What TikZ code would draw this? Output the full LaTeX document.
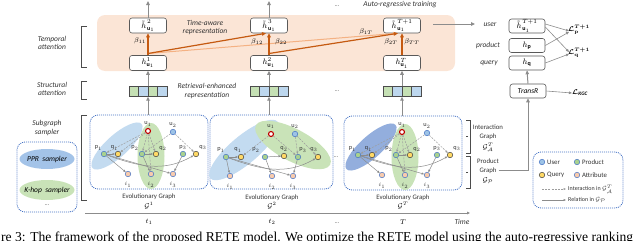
\documentclass[tikz,border=0pt]{standalone}
\usepackage{amsmath}
\usepackage{fontspec}
\setmainfont{Carlito}
\newfontfamily\capfont{Liberation Serif}
\usetikzlibrary{arrows.meta,shapes.geometric,calc}
\definecolor{gline}{HTML}{8C8C8C}
\definecolor{dorange}{HTML}{C55A11}
\definecolor{lorange}{HTML}{F4B183}
\definecolor{peach}{HTML}{FBE5D6}
\definecolor{dotblue}{HTML}{4472C4}
\definecolor{vgreen}{HTML}{C5E0B4}
\definecolor{vblue}{HTML}{BDD7EE}
\definecolor{nblue}{HTML}{9DC3E6}
\definecolor{ngreen}{HTML}{A9D18E}
\definecolor{nyellow}{HTML}{FFD966}
\definecolor{norange}{HTML}{F8CBAD}
\definecolor{nred}{HTML}{C00000}
\definecolor{eblue}{HTML}{C3DBF0}
\definecolor{eblueb}{HTML}{93AEDD}
\definecolor{epurp}{HTML}{A3C3E8}
\definecolor{egreen}{HTML}{C9E3B8}
\definecolor{boxdraw}{HTML}{595959}
\tikzset{
  gar/.style={draw=gline, line width=1pt, -{Triangle[length=4pt,width=3.5pt]}},
  tar/.style={draw=gline, line width=0.6pt, -{Triangle[length=3pt,width=2.6pt]}},
  oar/.style={draw=dorange, line width=1.2pt, -{Triangle[length=4pt,width=3.5pt]}},
  lar/.style={draw=lorange, line width=1pt, -{Triangle[length=4pt,width=3.5pt]}},
  hbox/.style={draw=boxdraw, rounded corners=2.5pt, fill=white, minimum width=37pt, minimum height=15pt, inner sep=0pt, line width=0.6pt, font=\fontsize{8}{9}\selectfont},
  lab/.style={font=\fontsize{7.5}{8.8}\selectfont\itshape, align=center, text=black!80, inner sep=0pt},
  plab/.style={font=\fontsize{6.8}{8}\selectfont, align=center, text=black!80, inner sep=0pt},
  gn/.style={circle, draw=dotblue, line width=0.5pt, minimum size=5.5pt, inner sep=0pt},
  un/.style={gn, fill=nblue},
  rn/.style={gn, fill=white, draw=nred, line width=1.1pt, minimum size=5pt},
  pn/.style={gn, fill=ngreen},
  qn/.style={gn, fill=nyellow, draw=black!75},
  atn/.style={gn, fill=norange},
  nl/.style={font=\fontsize{6.3}{7}\selectfont, inner sep=0pt, text=black!80},
  dotbox/.style={draw=dotblue, dash pattern=on 1pt off 1pt, line width=0.8pt, rounded corners=8pt, inner sep=0pt},
  ie/.style={draw=gline!85, dash pattern=on 2pt off 1.2pt, line width=0.5pt, -{Triangle[length=2.5pt,width=2pt]}},
  rel/.style={draw=gline, line width=0.5pt, -{Triangle[length=2.5pt,width=2pt]}},
  brk/.style={draw=black!70, line width=0.8pt},
  vsq/.style={draw=black!70, line width=0.5pt, minimum width=9.5pt, minimum height=10pt, inner sep=0pt},
  bet/.style={font=\fontsize{7}{8}\selectfont, inner sep=0pt},
  ell/.style={ellipse, inner sep=0pt},
  dots/.style={font=\fontsize{6}{6}\selectfont, inner sep=0pt, text=black!70}
}
\newcommand\vecat[2]{% name, x
  \node[inner sep=0pt, minimum width=38pt, minimum height=10pt] (#1) at (#2,91.5) {};
  \node[vsq, fill=vgreen] (#1a) at ($(#1)+(-14.25,0)$) {};
  \node[vsq, fill=vblue]  (#1b) at ($(#1)+(-4.75,0)$) {};
  \node[vsq, fill=vgreen] (#1c) at ($(#1)+(4.75,0)$) {};
  \node[vsq, fill=vblue]  (#1d) at ($(#1)+(14.25,0)$) {};
}
\newcommand\panelA[4]{% prefix, dx, dy, ellipse blue
\begin{scope}[shift={(#2,#3)}]
  \node[dotbox, minimum width=118pt, minimum height=74pt] (#1box) at (149,152) {};
  \node[ell, fill=#4, minimum width=66pt, minimum height=22pt, rotate=42] (#1eb) at (117,146) {};
  \node[ell, fill=egreen, minimum width=27pt, minimum height=66pt] (#1eg) at (151,156) {};
  \node[rn] (#1u1) at (148,131) {};
  \node[un] (#1u2) at (173,132) {};
  \node[pn] (#1p1) at (104,154) {};
  \node[qn] (#1q1) at (118,154) {};
  \node[pn] (#1p2) at (142,154) {};
  \node[qn] (#1q2) at (156,154) {};
  \node[pn] (#1p3) at (183,154) {};
  \node[qn] (#1q3) at (196,154) {};
  \node[atn] (#1i1) at (128,174) {};
  \node[atn] (#1i2) at (151,174) {};
  \node[atn] (#1i3) at (173,174) {};
  \node[nl] (#1lu1) at (148,124) {u$_1$};
  \node[nl] (#1lu2) at (173,125) {u$_2$};
  \node[nl] (#1lp1) at (98.5,148) {p$_1$};
  \node[nl] (#1lq1) at (114.5,148) {q$_1$};
  \node[nl] (#1lp2) at (135,148) {p$_2$};
  \node[nl] (#1lq2) at (163,148.5) {q$_2$};
  \node[nl] (#1lp3) at (183,147.5) {p$_3$};
  \node[nl] (#1lq3) at (203,147.5) {q$_3$};
  \node[nl] (#1li1) at (128,184.5) {$i_1$};
  \node[nl] (#1li2) at (151,184.5) {$i_2$};
  \node[nl] (#1li3) at (173,184.5) {$i_3$};
  \draw[ie] (#1u1) -- (#1p1);
  \draw[ie] (#1u1) -- (#1q1);
  \draw[ie] (#1u1) -- (#1p2);
  \draw[ie] (#1u1) -- (#1q2);
  \draw[ie] (#1u1) -- (#1i2);
  \draw[ie] (#1u2) -- (#1p2);
  \draw[ie] (#1u2) -- (#1q3);
  \draw[rel] (#1p1) -- (#1q1);
  \draw[rel] (#1p2) -- (#1q2);
  \draw[rel] (#1p1) -- (#1i1);
  \draw[rel] (#1p1) -- (#1i3);
  \draw[rel] (#1p2) -- (#1i2);
  \draw[rel] (#1p3) -- (#1i3);
  \draw[rel] (#1p1) to[out=-20,in=-150] (#1q3);
\end{scope}}
\begin{document}
\begin{tikzpicture}[x=1pt,y=-1pt]
\useasboundingbox (0,0) rectangle (640,241);
\clip (0,0) rectangle (640,241);
% orange band
\node[fill=peach, rounded corners=8pt, minimum width=358pt, minimum height=56pt, inner sep=0pt] (band) at (276,43) {};
% left labels and brackets
\node[lab] (ltemp) at (52,43) {Temporal\\attention};
\node[lab] (lstruc) at (52,89) {Structural\\attention};
\node[lab] (lsub) at (47,128) {Subgraph\\sampler};
\draw[brk] (87,26) -- (81,26) -- (81,67) -- (87,67);
\draw[brk] (87,81) -- (81,81) -- (81,99) -- (87,99);
\draw[brk] (87,115) -- (81,115) -- (81,200) -- (87,200);
% sampler box
\node[dotbox, minimum width=60pt, minimum height=70pt] (sbox) at (47,177) {};
\node[ell, fill=epurp, minimum width=55pt, minimum height=20pt] (ppr) at (47,159) {};
\node[lab, text=black] (pprt) at (47,159) {PPR\ \ sampler};
\node[ell, fill=egreen, minimum width=55pt, minimum height=20pt] (khop) at (47,190) {};
\node[lab, text=black] (khopt) at (47,190) {K-hop\ \ sampler};
\node[dots] (sdots) at (47,205) {\textellipsis};
% top boxes
\node[hbox] (t1) at (148,25.5) {${\tilde{h}\kern0.9pt}^{2}_{\mathbf{u}_1}$};
\node[hbox] (b1) at (148,63) {$h^{1}_{\mathbf{u}_1}$};
\node[hbox] (t2) at (269,25.5) {${\tilde{h}\kern0.9pt}^{3}_{\mathbf{u}_1}$};
\node[hbox] (b2) at (269,63) {$h^{2}_{\mathbf{u}_1}$};
\node[hbox] (t3) at (402,25.5) {${\tilde{h}\kern0.9pt}^{T+1}_{\mathbf{u}_1}$};
\node[hbox] (b3) at (402,63) {$h^{T}_{\mathbf{u}_1}$};
\coordinate (o1) at (148,1);
\coordinate (o2) at (269,1);
\draw[gar] (t1.north) -- (o1);
\draw[gar] (t2.north) -- (o2);
% vectors
\vecat{v1}{148}
\vecat{v2}{269}
\vecat{v3}{402}
\draw[gar] (v1.north) -- (b1.south);
\draw[gar] (v2.north) -- (b2.south);
\draw[gar] (v3.north) -- (b3.south);
% orange attention
\coordinate (s1) at (148,53.5);
\coordinate (s2) at (269,53.5);
\draw[lar] (s1) -- ($(t3.south)+(-5,0)$);
\draw[oar] (s1) -- ($(t2.south)+(-3,0)$);
\draw[oar] (s2) -- ($(t3.south)+(-4,0)$);
\draw[oar] (b1.north) -- (t1.south);
\draw[oar] (b2.north) -- (t2.south);
\draw[oar] (b3.north) -- (t3.south);
\node[bet] (be11) at (140,41) {$\beta_{11}$};
\node[bet] (be12) at (257,42) {$\beta_{12}$};
\node[bet] (be22) at (281,42) {$\beta_{22}$};
\node[bet] (be1T) at (366,32) {$\beta_{1T}$};
\node[bet] (be2T) at (391,42) {$\beta_{2T}$};
\node[bet] (beTT) at (412,42) {$\beta_{TT}$};
\node[lab] (tar) at (205,27.5) {Time-aware\\representation};
\node[lab] (rer) at (207,91) {Retrieval-enhanced\\representation};
\node[lab] (art) at (400,5) {Auto-regressive training};
\node[dots] (d1) at (337,6) {\textellipsis};
\node[dots] (d2) at (337,91) {\textellipsis};
\node[dots] (d3) at (336,157) {\textellipsis};
\node[dots] (d4) at (337,223) {\textellipsis};
% panels
\panelA{A}{0}{0}{eblue}
\panelA{C}{254}{1}{eblueb}
\begin{scope}
  \node[dotbox, minimum width=123pt, minimum height=74pt] (Bbox) at (271.5,152) {};
  \node[ell, fill=eblue, minimum width=88pt, minimum height=28pt, rotate=40] (Beb) at (244,150) {};
  \node[ell, fill=egreen, minimum width=84pt, minimum height=32pt, rotate=-28] (Beg) at (293,145) {};
  \node[rn] (Bu1) at (271,134) {};
  \node[un] (Bu2) at (295,134) {};
  \node[pn] (Bp1) at (226,157) {};
  \node[qn] (Bq1) at (241,157) {};
  \node[pn] (Bp2) at (265,157) {};
  \node[qn] (Bq2) at (284,156) {};
  \node[pn] (Bp3) at (298,157) {};
  \node[qn] (Bq3) at (318,157) {};
  \node[atn] (Bi1) at (230,176) {};
  \node[atn] (Bi2) at (272,176) {};
  \node[atn] (Bi3) at (293,176) {};
  \node[nl] (Blu1) at (271,126.5) {u$_1$};
  \node[nl] (Blu2) at (295,126.5) {u$_2$};
  \node[nl] (Blp1) at (221,150) {p$_1$};
  \node[nl] (Blq1) at (238,150) {q$_1$};
  \node[nl] (Blp2) at (256,150) {p$_2$};
  \node[nl] (Blq2) at (284,149) {q$_2$};
  \node[nl] (Blp3) at (303,150) {p$_3$};
  \node[nl] (Blq3) at (314,149.5) {q$_3$};
  \node[nl] (Bli1) at (230,186.5) {$i_1$};
  \node[nl] (Bli2) at (272,186.5) {$i_2$};
  \node[nl] (Bli3) at (293,186.5) {$i_3$};
  \draw[ie] (Bu1) -- (Bq1);
  \draw[ie] (Bu1) -- (Bp3);
  \draw[ie] (Bu2) -- (Bp3);
  \draw[ie] (Bu2) -- (Bq3);
  \draw[rel] (Bp1) -- (Bq1);
  \draw[rel] (Bp2) -- (Bq2);
  \draw[rel] (Bp1) -- (Bi1);
  \draw[rel] (Bp1) -- (Bi3);
  \draw[rel] (Bp2) -- (Bi2);
  \draw[rel] (Bp3) -- (Bi3);
  \draw[rel] (Bp1) to[out=-20,in=-150] (Bq3);
\end{scope}
\draw[gar] (Abox.north -| v1.south) -- (v1.south);
\draw[gar] (Bbox.north -| v2.south) -- (v2.south);
\draw[gar] (Cbox.north -| v3.south) -- (v3.south);
% evolutionary graph labels
\node[plab] (eg1) at (149,197) {Evolutionary Graph};
\node[plab] (eg2) at (272,198) {Evolutionary Graph};
\node[plab] (eg3) at (403,198) {Evolutionary Graph};
\node[bet] (g1) at (149,205.5) {$\mathcal{G}^{1}$};
\node[bet] (g2) at (272,205.5) {$\mathcal{G}^{2}$};
\node[bet] (g3) at (403,205.5) {$\mathcal{G}^{T}$};
\coordinate (ta) at (85,213);
\coordinate (tb) at (470,213);
\draw[tar, line width=0.8pt] (ta) -- (tb);
\node[bet] (tt1) at (149,222) {$t_1$};
\node[bet] (tt2) at (272,222) {$t_2$};
\node[bet] (ttT) at (403,222) {$T$};
\node[lab] (time) at (462,221.5) {Time};
% right brackets
\draw[brk] (466,120) -- (470,120) -- (470,153) -- (466,153);
\draw[brk] (468,136.5) -- (466,136.5);
\draw[brk] (466,156) -- (470,156) -- (470,188) -- (466,188);
\draw[brk] (468,172) -- (466,172);
\node[plab] (ig1) at (488,127) {Interaction};
\node[plab] (ig2) at (488,137) {Graph};
\node[bet] (ig3) at (488,147) {$\mathcal{G}_{\mathcal{A}}^{T}$};
\node[plab] (pg1) at (488,161) {Product};
\node[plab] (pg2) at (488,170.5) {Graph};
\node[bet] (pg3) at (488,181) {$\mathcal{G}_{\mathcal{P}}$};
% right side
\coordinate (ua) at (433,24);
\coordinate (ub) at (475,24);
\draw[gar] (ua) -- (ub);
\node[lab] (user) at (490,25) {user};
\node[lab] (prod) at (488,45) {product};
\node[lab] (query) at (489,63) {query};
\node[hbox, minimum width=36pt, minimum height=14pt] (hu) at (527,26) {${\tilde{h}\kern0.9pt}^{T+1}_{\mathbf{u}_1}$};
\node[hbox, minimum width=36pt, minimum height=14pt] (hp) at (527,45.5) {$h_{\mathbf{p}}$};
\node[hbox, minimum width=36pt, minimum height=14pt] (hq) at (527,63) {$h_{\mathbf{q}}$};
\node[hbox, minimum width=36pt, minimum height=14pt, font=\fontsize{7.5}{8}\selectfont\itshape] (tr) at (528,91) {TransR};
\node[bet, font=\fontsize{7.5}{8}\selectfont\boldmath] (lp) at (579,30) {$\mathcal{L}_{\mathbf{p}}^{T+1}$};
\node[bet, font=\fontsize{7.5}{8}\selectfont\boldmath] (lq) at (579,53) {$\mathcal{L}_{\mathbf{q}}^{T+1}$};
\node[bet, font=\fontsize{7.5}{8}\selectfont\boldmath] (lk) at (580,93) {$\mathcal{L}_{\mathit{KGC}}$};
\draw[tar] ($(hu.east)+(0,-2)$) -- ($(lp.west)+(1,1)$);
\draw[tar] ($(hu.east)+(0,1)$) -- ($(lq.west)+(1,-1)$);
\draw[tar] (hp.east) -- ($(lp.west)+(1,2)$);
\draw[tar] (hq.east) -- ($(lq.west)+(1,1)$);
\draw[tar] (tr.east) -- (lk.west);
\draw[gar] (tr.north) -- (hq.south);
\draw[gar] ($(pg2.east)+(2,0)$) -| (tr.south);
% legend
\node[dotbox, minimum width=90pt, minimum height=56pt] (leg) at (578,180) {};
\node[un] (lgu) at (542,162) {};
\node[plab, anchor=west] (lgut) at (547,162) {User};
\node[pn] (lgp) at (577,162) {};
\node[plab, anchor=west] (lgpt) at (582,162) {Product};
\node[qn] (lgq) at (542,175) {};
\node[plab, anchor=west] (lgqt) at (547,175) {Query};
\node[atn] (lga) at (577,175) {};
\node[plab, anchor=west] (lgat) at (582,175) {Attribute};
\coordinate (lia) at (542,189);
\coordinate (lib) at (566,189);
\draw[ie] (lia) -- (lib);
\node[plab, anchor=west, font=\fontsize{6}{7}\selectfont] (lgit) at (568,189) {Interaction in $\mathcal{G}_{\mathcal{A}}^{T}$};
\coordinate (lra) at (542,200);
\coordinate (lrb) at (566,200);
\draw[rel] (lra) -- (lrb);
\node[plab, anchor=west, font=\fontsize{6}{7}\selectfont] (lgrt) at (568,200) {Relation in $\mathcal{G}_{\mathcal{P}}$};
% caption (cut off)
\node[anchor=base west, inner sep=0pt, font=\capfont\fontsize{13.6}{14}\selectfont] (cap) at (1,241) {re 3: The framework of the proposed RETE model. We optimize the RETE model using the auto-regressive ranking};
\end{tikzpicture}
\end{document}
